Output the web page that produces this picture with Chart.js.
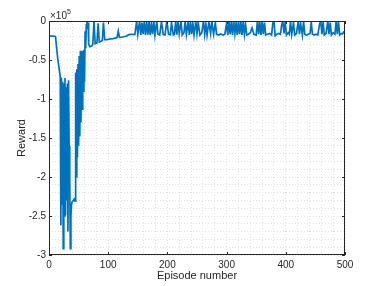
<!DOCTYPE html>
<html>
<head>
<meta charset="utf-8">
<script src="https://cdn.jsdelivr.net/npm/chart.js@4"></script>
<style>
    html, body { margin: 0; padding: 0; background: #fff; }
    #wrap { width: 381px; height: 286px; position: relative; }
</style>
</head>
<body>
<div id="wrap"><canvas id="rewardChart"></canvas></div>
<script>
// episode numbers and rewards
const episodes = [
    0, 10, 11, 13, 15, 17, 19, 20, 21, 22, 23, 24, 25, 26, 27, 28, 29, 30, 31, 32, 33, 34, 35, 36, 37, 38, 39, 41, 43, 44,
    45, 46, 47, 48, 49, 50, 51, 52, 53, 54, 55, 56, 57, 58, 59, 60, 61, 62, 63, 64, 65, 66, 67, 69, 72, 74, 76, 78, 81, 83,
    85, 88, 90, 92, 94, 98, 103, 108, 112, 115, 117, 119, 124, 130, 135, 140, 145, 148, 150, 153, 155, 157, 159, 161, 163, 165, 167, 169, 171, 173,
    175, 177, 179, 182, 184, 187, 190, 193, 196, 199, 202, 205, 207, 210, 212, 214, 216, 218, 220, 223, 225, 228, 230, 232, 235, 237, 239, 241, 243, 245,
    248, 250, 252, 255, 258, 261, 263, 265, 267, 270, 273, 275, 278, 281, 283, 287, 290, 294, 297, 300, 302, 304, 306, 308, 310, 312, 314, 316, 318, 320,
    322, 324, 326, 328, 330, 332, 334, 337, 340, 343, 346, 350, 352, 354, 356, 358, 360, 362, 364, 366, 369, 373, 376, 378, 380, 382, 385, 388, 391, 393,
    395, 397, 399, 401, 404, 406, 408, 410, 413, 415, 418, 421, 423, 425, 428, 430, 432, 435, 438, 441, 443, 445, 448, 451, 454, 457, 459, 461, 463, 465,
    468, 471, 473, 475, 477, 480, 483, 485, 487, 489, 491, 494, 496, 498, 500
];
const rewards = [
    -19000, -19500, -20000, -35000, -50000, -60000, -72000, -262000, -73000, -235000, -78000, -292000, -80000, -250000, -73000, -249000, -85000, -230000, -80000, -270000, -76000, -160000, -205000, -292000, -250000, -235000, -232000, -230000, -228000, -231000,
    -66000, -200000, -62000, -175000, -55000, -160000, -45000, -148000, -38000, -130000, -40000, -113000, -38000, -90000, -37000, -78000, -13000, -35000, -5000, 0, -10000, -2000, -30000, -33000, -32000, -30000, 0, -29000, -28000, -3000,
    -27000, -26000, -25000, -2000, -24000, -24000, -23000, -22500, -22000, -21000, -13000, -21000, -20500, -19500, -17500, -17000, -17500, 0, -17000, 0, -18000, -2000, -17000, 0, -18000, -1000, -17500, 0, -18000, -3000,
    -17000, 0, -18000, 0, -17000, -18000, -1000, -17500, -18000, 0, -17000, -17500, -2000, -18000, -17000, 0, -17500, -1000, -16000, 0, -18000, -15000, 0, -17000, -1000, -18000, 0, -17000, -3000, -18000,
    0, -16000, -2000, -18000, -15000, 0, -17000, -4000, -18000, -1000, -16000, 0, -17000, -2000, -17000, -18000, -16500, -18000, -17000, -3000, -18000, 0, -17000, -1000, -18000, 0, -16000, -2000, -18000, 0,
    -17000, -1000, -18000, 0, -17000, -4000, -18000, -17000, -15000, -9000, -17000, -18000, 0, -17000, -1000, -18000, 0, -17000, -2000, -18000, -17000, -16000, -18000, -3000, 0, -19000, -17000, -16000, -17000, -5000,
    0, -16000, -1000, -18000, -15000, -17000, 0, -17000, -2000, -18000, -16000, 0, -17000, -3000, -18000, 0, -17000, -18000, -17000, -16000, -1000, -17000, -18000, -17000, -18000, -4000, 0, -17000, -1000, -18000,
    -16000, 0, -17000, -2000, -18000, -15000, -17000, 0, -17000, -1000, -18000, -16000, -16500, -14000, -13000
];
const xTicks = [0, 100, 200, 300, 400, 500];
const yTicks = [-300000, -250000, -200000, -150000, -100000, -50000, 0];

const axisColor = '#262626';
const fontFamily = '"Liberation Sans", Arial, sans-serif';

// box, inward ticks, axis titles and the x10^5 exponent (matlab style)
const matlabAxes = {
    id: 'matlabAxes',
    afterDraw(chart) {
        const ctx = chart.ctx;
        const area = chart.chartArea;
        const xs = chart.scales.x;
        const ys = chart.scales.y;
        ctx.save();
        ctx.strokeStyle = axisColor;
        ctx.lineWidth = 1;
        ctx.strokeRect(area.left + 0.5, area.top + 0.5, area.right - area.left - 1, area.bottom - area.top - 1);
        ctx.beginPath();
        xTicks.forEach(v => {
            const x = Math.round(xs.getPixelForValue(v)) + 0.5;
            ctx.moveTo(x, area.bottom); ctx.lineTo(x, area.bottom - 3);
            ctx.moveTo(x, area.top); ctx.lineTo(x, area.top + 3);
        });
        yTicks.forEach(v => {
            const y = Math.round(ys.getPixelForValue(v)) + 0.5;
            ctx.moveTo(area.left, y); ctx.lineTo(area.left + 3, y);
            ctx.moveTo(area.right, y); ctx.lineTo(area.right - 3, y);
        });
        ctx.stroke();

        ctx.fillStyle = axisColor;
        ctx.font = '11px ' + fontFamily;
        ctx.textAlign = 'center';
        ctx.textBaseline = 'middle';
        ctx.fillText('Episode number', (area.left + area.right) / 2, 276);
        ctx.translate(22, (area.top + area.bottom) / 2);
        ctx.rotate(-Math.PI / 2);
        ctx.fillText('Reward', 0, 0);
        ctx.restore();

        ctx.save();
        ctx.fillStyle = axisColor;
        ctx.textAlign = 'left';
        ctx.textBaseline = 'alphabetic';
        ctx.font = '10px ' + fontFamily;
        ctx.fillText('\u00d710', area.left + 1, area.top - 2);
        ctx.font = '7px ' + fontFamily;
        ctx.fillText('5', area.left + 18, area.top - 7);
        ctx.restore();
    }
};

const gridStyle = {
    color: '#e2e2e2',
    lineWidth: 1,
    drawTicks: false
};

new Chart(document.getElementById('rewardChart'), {
    type: 'line',
    data: {
        datasets: [{
            data: episodes.map((ep, i) => ({ x: ep, y: rewards[i] })),
            borderColor: '#0072BD',
            borderWidth: 1.7,
            pointRadius: 0,
            tension: 0,
            fill: false
        }]
    },
    options: {
        responsive: true,
        maintainAspectRatio: false,
        animation: false,
        layout: { padding: { left: 0, top: 21, right: 36, bottom: 0 } },
        plugins: { legend: { display: false }, tooltip: { enabled: false } },
        scales: {
            x: {
                type: 'linear',
                min: 0,
                max: 500,
                border: { display: false, dash: [1, 2] },
                grid: gridStyle,
                afterFit: scale => { scale.height = 31; },
                ticks: {
                    stepSize: 20,
                    autoSkip: false,
                    maxRotation: 0,
                    padding: 4,
                    color: axisColor,
                    font: { family: fontFamily, size: 10 },
                    callback: v => (v % 100 === 0 ? String(v) : '')
                }
            },
            y: {
                min: -300000,
                max: 0,
                border: { display: false, dash: [1, 2] },
                grid: gridStyle,
                afterFit: scale => { scale.width = 49; },
                ticks: {
                    stepSize: 10000,
                    autoSkip: false,
                    padding: 3,
                    color: axisColor,
                    font: { family: fontFamily, size: 10 },
                    callback: v => (v % 50000 === 0 ? String(Math.round(v / 10000) / 10) : '')
                }
            }
        }
    },
    plugins: [matlabAxes]
});
</script>
</body>
</html>
